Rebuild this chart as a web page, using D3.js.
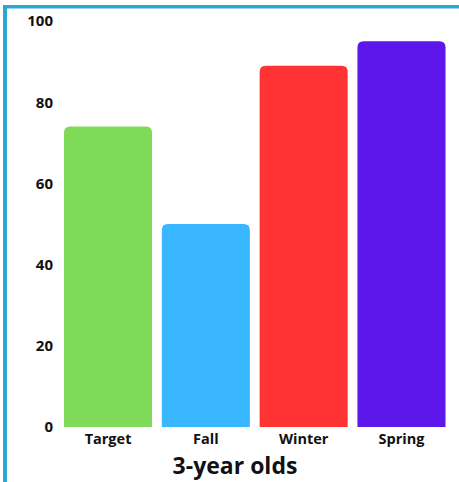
<!DOCTYPE html>
<html>
<head>
<meta charset="utf-8">
<script src="https://cdn.jsdelivr.net/npm/d3@7"></script>
<style>
  html, body { margin: 0; padding: 0; background: #fff; }
  svg { display: block; }
  text { font-family: "Open Sans", "Noto Sans", sans-serif; font-weight: 700; fill: #111; }
</style>
</head>
<body>
<svg id="chart" width="459" height="482"></svg>
<script>
const categories = ["Target", "Fall", "Winter", "Spring"];
const values = [74, 50, 89, 95];
const colors = ["#80da5a", "#38b6ff", "#ff3333", "#5e17eb"];
const yTicks = [0, 20, 40, 60, 80, 100];
const title = "3-year olds";

const svg = d3.select("#chart");
const W = 459, H = 482;

// frame
svg.append("rect").attr("x", 3).attr("y", 5).attr("width", W - 3).attr("height", 3.5).attr("fill", "#2aa7d3");
svg.append("rect").attr("x", 3).attr("y", 5).attr("width", 4).attr("height", H - 5).attr("fill", "#2aa7d3");

const x = d3.scaleBand().domain(categories).range([64, 445.5]).paddingInner(0.1).paddingOuter(0);
const y = d3.scaleLinear().domain([0, 100]).range([427, 21]);

const r = 6;
function barPath(x0, w, yTop, yBot) {
  return `M${x0},${yBot} L${x0},${yTop + r} Q${x0},${yTop} ${x0 + r},${yTop} L${x0 + w - r},${yTop} Q${x0 + w},${yTop} ${x0 + w},${yTop + r} L${x0 + w},${yBot} Z`;
}

svg.append("g").selectAll("path").data(categories).join("path")
  .attr("d", (d, i) => barPath(x(d), x.bandwidth(), y(values[i]), y(0)))
  .attr("fill", (d, i) => colors[i]);

// y axis
const yAxis = d3.axisLeft(y).tickValues(yTicks).tickSize(0).tickPadding(0);
const gy = svg.append("g").attr("transform", "translate(53,0)").call(yAxis);
gy.select(".domain").remove();
gy.selectAll("text").style("font-size", "15px").style("font-family", "'Open Sans', sans-serif").style("font-weight", 700).attr("fill", "#111");

// x axis
const xAxis = d3.axisBottom(x).tickSize(0).tickPadding(0);
const gx = svg.append("g").attr("transform", "translate(0,434)").call(xAxis);
gx.select(".domain").remove();
gx.selectAll("text").style("font-size", "14.5px").style("font-family", "'Open Sans', sans-serif").style("font-weight", 700).attr("fill", "#111");

svg.append("text").attr("x", 235).attr("y", 474).attr("text-anchor", "middle")
  .style("font-size", "23px").text(title);
</script>
</body>
</html>
